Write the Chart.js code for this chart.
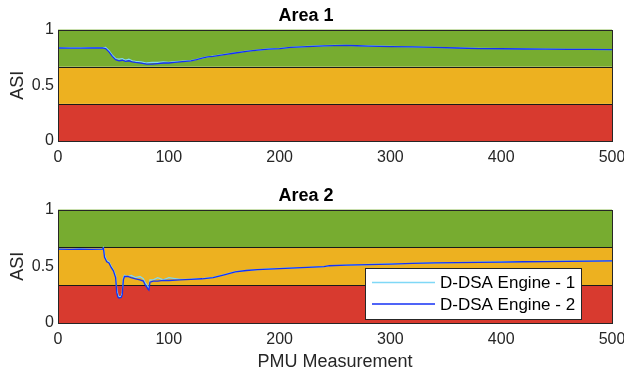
<!DOCTYPE html>
<html>
<head>
<meta charset="utf-8">
<script src="https://cdn.jsdelivr.net/npm/chart.js@4.4.0/dist/chart.umd.min.js"></script>
<style>
  body { margin: 0; background: #fff; }
  #wrap { position: relative; width: 624px; height: 375px; }
  .box { position: absolute; left: 0; width: 624px; }
</style>
</head>
<body>
<div id="wrap">
  <div class="box" style="top:0;height:180px"><canvas id="area1"></canvas></div>
  <div class="box" style="top:180px;height:195px"><canvas id="area2"></canvas></div>
</div>
<script>
// ASI bands (low / medium / high)
const bandEdges = [0, 0.333, 0.667, 1];
const bandColors = ["#D83A2F", "#EDB120", "#77AC30"];

const seriesLabels = ["D-DSA Engine - 1", "D-DSA Engine - 2"];
const xTicks = [0, 100, 200, 300, 400, 500];
const yTicks = [0, 0.5, 1];

// Area 1
const pmuArea1 = [0, 10, 20, 30, 40, 43, 46, 49, 52, 55, 58, 61, 64, 67, 70, 75, 80, 85, 90, 95,
  100, 105, 110, 115, 120, 125, 130, 135, 140, 150, 160, 170, 180, 190, 200, 210, 220, 230, 240, 250,
  260, 270, 280, 290, 300, 320, 340, 360, 380, 400, 420, 440, 460, 480, 500];
const area1Eng1 = [0.836, 0.835, 0.835, 0.837, 0.836, 0.84, 0.81, 0.77, 0.74, 0.735, 0.74, 0.725, 0.735, 0.72, 0.715, 0.71, 0.7, 0.705, 0.705, 0.71,
  0.705, 0.712, 0.715, 0.718, 0.722, 0.732, 0.745, 0.755, 0.762, 0.777, 0.792, 0.806, 0.816, 0.826, 0.831, 0.841, 0.846, 0.851, 0.855, 0.858,
  0.859, 0.856, 0.853, 0.851, 0.849, 0.845, 0.841, 0.836, 0.831, 0.829, 0.827, 0.825, 0.823, 0.822, 0.821];
const area1Eng2 = [0.835, 0.834, 0.834, 0.836, 0.835, 0.83, 0.8, 0.76, 0.73, 0.72, 0.725, 0.715, 0.72, 0.71, 0.705, 0.7, 0.69, 0.69, 0.695, 0.7,
  0.7, 0.705, 0.71, 0.715, 0.72, 0.73, 0.745, 0.755, 0.76, 0.775, 0.79, 0.805, 0.815, 0.825, 0.83, 0.84, 0.845, 0.85, 0.854, 0.857,
  0.858, 0.855, 0.852, 0.85, 0.848, 0.845, 0.84, 0.835, 0.83, 0.828, 0.826, 0.824, 0.823, 0.822, 0.82];

// Area 2
const pmuArea2 = [0, 10, 20, 30, 40, 41, 42, 44, 46, 48, 50, 52, 53, 54, 55, 57, 58, 59, 60, 63,
  66, 70, 74, 77, 79, 80, 81, 82, 83, 86, 90, 95, 100, 110, 120, 130, 140, 150, 160, 170,
  180, 190, 200, 220, 240, 245, 260, 280, 300, 320, 340, 360, 380, 400, 420, 440, 460, 480, 500];
const area2Eng1 = [0.652, 0.65, 0.653, 0.65, 0.652, 0.665, 0.6, 0.55, 0.54, 0.5, 0.47, 0.42, 0.3, 0.25, 0.23, 0.235, 0.27, 0.4, 0.42, 0.41,
  0.42, 0.4, 0.41, 0.39, 0.35, 0.34, 0.32, 0.31, 0.38, 0.38, 0.4, 0.38, 0.4, 0.385, 0.387, 0.392, 0.402, 0.427, 0.452, 0.464,
  0.471, 0.476, 0.481, 0.489, 0.498, 0.506, 0.511, 0.516, 0.521, 0.526, 0.531, 0.533, 0.536, 0.538, 0.541, 0.543, 0.545, 0.546, 0.548];
const area2Eng2 = [0.652, 0.65, 0.652, 0.65, 0.652, 0.66, 0.58, 0.54, 0.53, 0.49, 0.46, 0.4, 0.27, 0.23, 0.22, 0.225, 0.25, 0.38, 0.41, 0.41,
  0.4, 0.39, 0.38, 0.37, 0.33, 0.32, 0.3, 0.29, 0.36, 0.37, 0.37, 0.375, 0.375, 0.38, 0.385, 0.39, 0.4, 0.425, 0.45, 0.463,
  0.47, 0.475, 0.48, 0.488, 0.497, 0.505, 0.51, 0.515, 0.52, 0.525, 0.53, 0.532, 0.535, 0.537, 0.54, 0.542, 0.544, 0.545, 0.547];

const FONT = "'Liberation Sans', Arial, sans-serif";
const eng1Color = "#7FD8F6";
const eng2Color = "#1530F5";

const toPts = (xs, ys) => xs.map((x, i) => ({ x: x, y: ys[i] }));

const bandsPlugin = {
  id: "bands",
  beforeDatasetsDraw(chart) {
    const { ctx, chartArea: a, scales: { y } } = chart;
    ctx.save();
    for (let i = 0; i < bandColors.length; i++) {
      const top = y.getPixelForValue(bandEdges[i + 1]);
      const bot = y.getPixelForValue(bandEdges[i]);
      ctx.fillStyle = bandColors[i];
      ctx.fillRect(a.left, top, a.right - a.left, bot - top);
    }
    ctx.strokeStyle = "#1a1a1a";
    ctx.lineWidth = 1;
    for (let i = 1; i < bandEdges.length - 1; i++) {
      const py = Math.round(y.getPixelForValue(bandEdges[i])) + 0.5;
      ctx.beginPath();
      ctx.moveTo(a.left, py);
      ctx.lineTo(a.right, py);
      ctx.stroke();
    }
    ctx.restore();
  },
  afterDraw(chart) {
    const { ctx, chartArea: a } = chart;
    ctx.save();
    ctx.strokeStyle = "#262626";
    ctx.lineWidth = 1;
    ctx.strokeRect(Math.round(a.left) + 0.5, Math.round(a.top) + 0.5,
      Math.round(a.right - a.left), Math.round(a.bottom - a.top));
    ctx.restore();
  }
};

const legendPlugin = {
  id: "boxLegend",
  afterDraw(chart) {
    const { ctx, chartArea: a } = chart;
    const x0 = a.right - 247, y0 = a.bottom - 55, w = 216, h = 51;
    ctx.save();
    ctx.fillStyle = "#fff";
    ctx.fillRect(x0, y0, w, h);
    ctx.strokeStyle = "#262626";
    ctx.lineWidth = 1;
    ctx.strokeRect(x0 + 0.5, y0 + 0.5, w, h);
    ctx.font = "17px " + FONT;
    ctx.textBaseline = "middle";
    chart.data.datasets.forEach((ds, i) => {
      const ly = y0 + 14.5 + i * 21.5;
      ctx.strokeStyle = ds.borderColor;
      ctx.lineWidth = 1.5;
      ctx.beginPath();
      ctx.moveTo(x0 + 7, ly);
      ctx.lineTo(x0 + 70, ly);
      ctx.stroke();
      ctx.fillStyle = "#000";
      ctx.fillText(ds.label, x0 + 75, ly + 1);
    });
    ctx.restore();
  }
};

function makeChart(id, title, xs, eng1, eng2, showXTitle, withLegend) {
  return new Chart(document.getElementById(id), {
    type: "line",
    data: {
      datasets: [
        { label: seriesLabels[0], data: toPts(xs, eng1), borderColor: eng1Color, borderWidth: 1.3, pointRadius: 0, order: 1 },
        { label: seriesLabels[1], data: toPts(xs, eng2), borderColor: eng2Color, borderWidth: 1.3, pointRadius: 0, order: 0 }
      ]
    },
    options: {
      responsive: true,
      maintainAspectRatio: false,
      animation: false,
      devicePixelRatio: 1,
      layout: { padding: { left: 0, right: 12, top: 0, bottom: 0 } },
      plugins: {
        legend: { display: false },
        tooltip: { enabled: false },
        title: {
          display: true,
          text: title,
          color: "#000",
          font: { family: FONT, size: 18, weight: "bold" },
          padding: { top: 5, bottom: 3 }
        }
      },
      scales: {
        x: {
          type: "linear",
          min: 0,
          max: 500,
          afterBuildTicks: s => { s.ticks = xTicks.map(v => ({ value: v })); },
          afterFit: s => {
            s.height = showXTitle ? 52 : 39;
            s.paddingLeft = 0;
            s.paddingRight = 0;
          },
          grid: { display: false, drawTicks: false },
          border: { display: false },
          ticks: { color: "#262626", font: { family: FONT, size: 16 }, padding: 7, maxRotation: 0 },
          title: {
            display: showXTitle,
            text: "PMU Measurement",
            color: "#262626",
            font: { family: FONT, size: 18 },
            padding: { top: 0, bottom: 2 }
          }
        },
        y: {
          min: 0,
          max: 1,
          afterBuildTicks: s => { s.ticks = yTicks.map(v => ({ value: v })); },
          afterFit: s => { s.width = 58; },
          grid: { display: false, drawTicks: false },
          border: { display: false },
          ticks: {
            color: "#262626",
            font: { family: FONT, size: 16 },
            padding: 4,
            callback: v => String(v)
          },
          title: {
            display: true,
            text: "ASI",
            color: "#262626",
            font: { family: FONT, size: 18 },
            padding: { top: 7, bottom: 0 }
          }
        }
      }
    },
    plugins: withLegend ? [bandsPlugin, legendPlugin] : [bandsPlugin]
  });
}

makeChart("area1", "Area 1", pmuArea1, area1Eng1, area1Eng2, false, false);
makeChart("area2", "Area 2", pmuArea2, area2Eng1, area2Eng2, true, true);
</script>
</body>
</html>
